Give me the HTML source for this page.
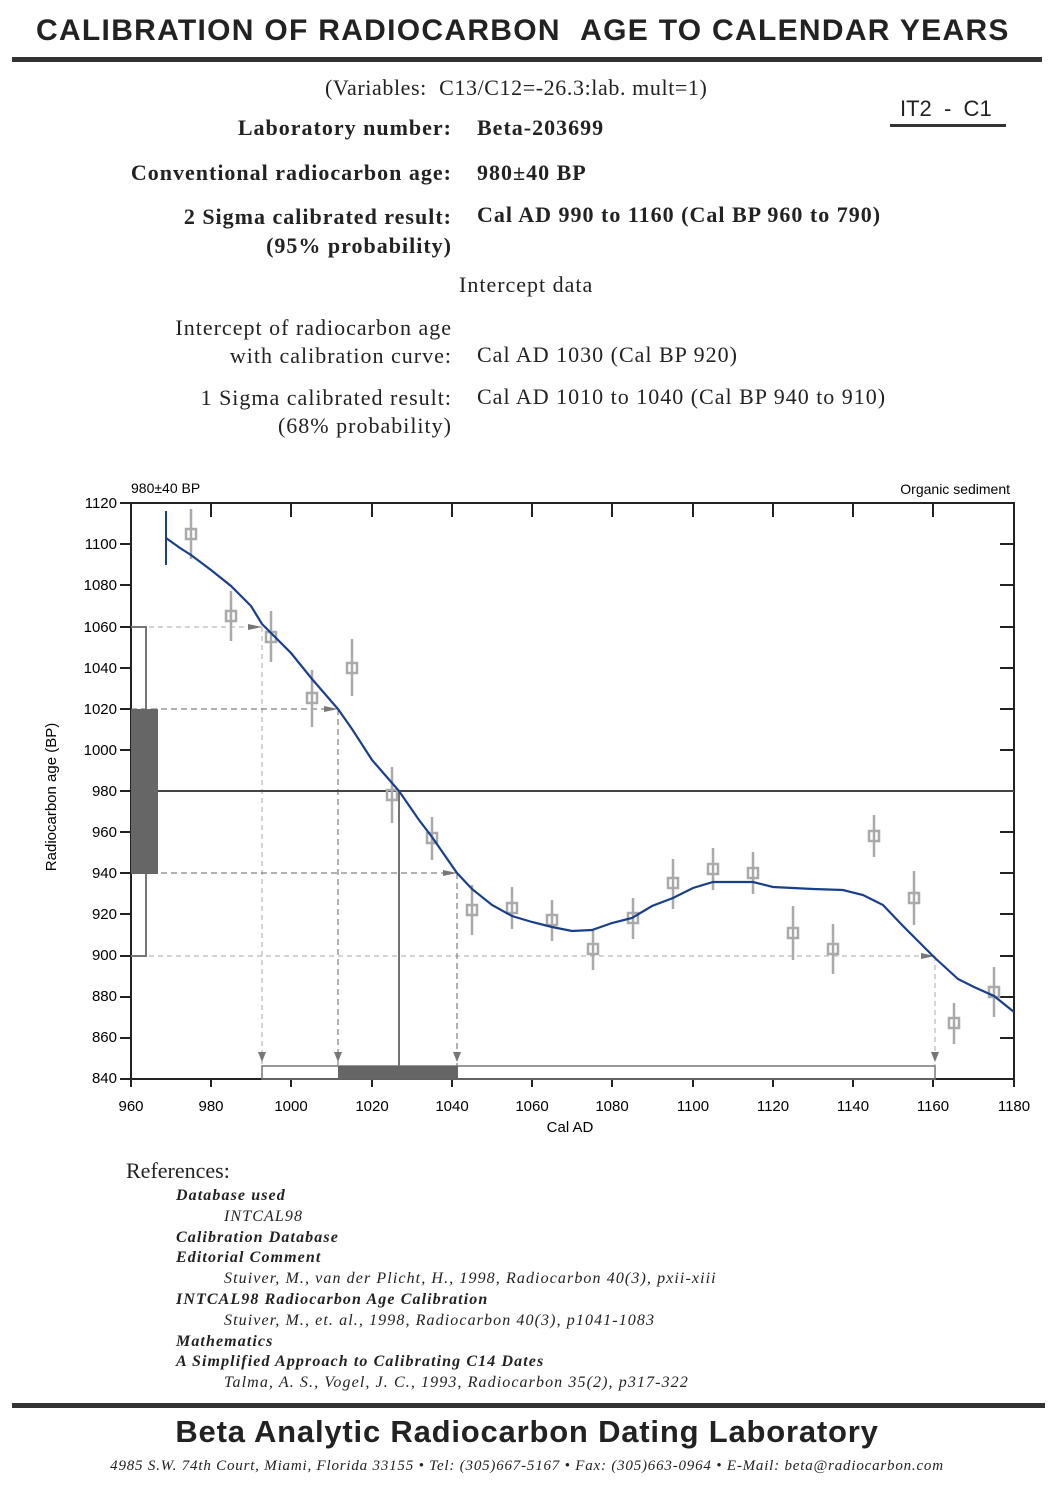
<!DOCTYPE html>
<html><head><meta charset="utf-8"><style>
body{margin:0;background:#fff;width:1054px;height:1504px;position:relative;overflow:hidden;font-family:"Liberation Serif",serif;color:#222}
.a{position:absolute;white-space:nowrap}
.s{font-family:"Liberation Sans",sans-serif}
.r{text-align:right}
.ref{font-style:italic;font-size:16px;letter-spacing:1.1px}
.t{letter-spacing:1px}
</style></head><body>
<div class="a s" style="left:36px;top:14px;font-size:30px;font-weight:bold;letter-spacing:1.3px">CALIBRATION OF RADIOCARBON &nbsp;AGE TO CALENDAR YEARS</div>
<div class="a" style="left:12px;top:57px;width:1030px;height:5px;background:#333"></div>
<div class="a" style="left:325px;top:75px;font-size:22px;letter-spacing:0.6px">(Variables: &nbsp;C13/C12=-26.3:lab. mult=1)</div>
<div class="a s" style="left:900px;top:96px;font-size:22px">IT2 &nbsp;- &nbsp;C1</div>
<div class="a" style="left:890px;top:124px;width:116px;height:3px;background:#333"></div>
<div class="a r t" style="right:602px;top:115px;font-size:22px;font-weight:bold">Laboratory number:</div>
<div class="a t" style="left:477px;top:115px;font-size:22px;font-weight:bold">Beta-203699</div>
<div class="a r t" style="right:602px;top:160px;font-size:22px;font-weight:bold">Conventional radiocarbon age:</div>
<div class="a t" style="left:477px;top:160px;font-size:22px;font-weight:bold">980±40 BP</div>
<div class="a r t" style="right:602px;top:202px;font-size:22px;font-weight:bold;line-height:29px">2 Sigma calibrated result:<br>(95% probability)</div>
<div class="a t" style="left:477px;top:202px;font-size:22px;font-weight:bold">Cal AD 990 to 1160 (Cal BP 960 to 790)</div>
<div class="a t" style="left:459px;top:272px;font-size:22px">Intercept data</div>
<div class="a r t" style="right:602px;top:314px;font-size:22px;line-height:28px">Intercept of radiocarbon age<br>with calibration curve:</div>
<div class="a t" style="left:477px;top:342px;font-size:22px">Cal AD 1030 (Cal BP 920)</div>
<div class="a r t" style="right:602px;top:384px;font-size:22px;line-height:28px">1 Sigma calibrated result:<br>(68% probability)</div>
<div class="a t" style="left:477px;top:384px;font-size:22px">Cal AD 1010 to 1040 (Cal BP 940 to 910)</div>

<svg class="a" style="left:0;top:0" width="1054" height="1504" font-family="Liberation Sans, sans-serif">
<text x="131" y="493" font-size="14">980±40 BP</text>
<text x="1010" y="494" font-size="14" text-anchor="end">Organic sediment</text>
<text x="56" y="797" font-size="15" text-anchor="middle" transform="rotate(-90 56 797)">Radiocarbon age (BP)</text>
<text x="570" y="1132" font-size="15" text-anchor="middle">Cal AD</text>
<g font-size="15" text-anchor="end">
<text x="117" y="508">1120</text><text x="117" y="549">1100</text><text x="117" y="590">1080</text><text x="117" y="632">1060</text><text x="117" y="673">1040</text><text x="117" y="714">1020</text><text x="117" y="755">1000</text><text x="117" y="796">980</text><text x="117" y="837">960</text><text x="117" y="878">940</text><text x="117" y="919">920</text><text x="117" y="960">900</text><text x="117" y="1001">880</text><text x="117" y="1042">860</text><text x="117" y="1083">840</text>
</g>
<g font-size="15" text-anchor="middle">
<text x="131" y="1111">960</text><text x="211" y="1111">980</text><text x="291" y="1111">1000</text><text x="372" y="1111">1020</text><text x="452" y="1111">1040</text><text x="532" y="1111">1060</text><text x="612" y="1111">1080</text><text x="693" y="1111">1100</text><text x="773" y="1111">1120</text><text x="853" y="1111">1140</text><text x="933" y="1111">1160</text><text x="1014" y="1111">1180</text>
</g>
<g stroke="#222" stroke-width="2">
<rect x="131" y="503" width="883" height="576" fill="none"/>
<path d="M120 503h11M120 544h11M120 585h11M120 627h11M120 668h11M120 709h11M120 750h11M120 791h11M120 832h11M120 873h11M120 914h11M120 956h11M120 997h11M120 1038h11M120 1079h11"/>
<path d="M1000 544h14M1000 585h14M1000 627h14M1000 668h14M1000 709h14M1000 750h14M1000 832h14M1000 873h14M1000 914h14M1000 956h14M1000 997h14M1000 1038h14"/>
<path d="M211 503v14M291 503v14M372 503v14M452 503v14M532 503v14M612 503v14M693 503v14M773 503v14M853 503v14M933 503v14"/>
<path d="M131 1079v8M211 1079v8M291 1079v8M372 1079v8M452 1079v8M532 1079v8M612 1079v8M693 1079v8M773 1079v8M853 1079v8M933 1079v8M1014 1079v8"/>
</g>
<g stroke="#aaa" stroke-width="1" stroke-dasharray="5,4" fill="none">
<path d="M131 627H262M131 956H935"/>
<path d="M262 627V1066M935 956V1066"/>
</g>
<g stroke="#666" stroke-width="1" stroke-dasharray="6,4" fill="none">
<path d="M131 709H338M131 873H457M338 709V1066M457 873V1066"/>
</g>
<path d="M131 791H1014" stroke="#444" stroke-width="2"/>
<path d="M399 791V1066" stroke="#444" stroke-width="1.5"/>
<path d="M131 627H146V956H131" stroke="#777" stroke-width="2" fill="none"/>
<rect x="131" y="709" width="27" height="165" fill="#666"/>
<rect x="262" y="1066" width="673" height="13" fill="none" stroke="#777" stroke-width="1.5"/>
<rect x="338" y="1066" width="120" height="13" fill="#666"/>
<g fill="#777">
<path d="M248 624l14 3-14 3z"/><path d="M324 706l14 3-14 3z"/><path d="M443 870l14 3-14 3z"/><path d="M921 953l14 3-14 3z"/>
<path d="M258 1052l4 10 4-10z"/><path d="M334 1052l4 10 4-10z"/><path d="M453 1052l4 10 4-10z"/><path d="M931 1052l4 10 4-10z"/>
</g>
<g stroke="#aaa" stroke-width="2.5" fill="none">
<path d="M191 509V559M231 591V641M271 611V662M312 670V727M352 639V696M392 767V823M432 817V860M472 885V935M512 887V929M552 900V941M593 929V970M633 898V939M673 859V909M713 848V890M753 852V894M793 906V960M833 924V974M874 815V857M914 871V925M954 1003V1044M994 967V1017"/>
<rect x="186" y="529" width="10" height="10"/><rect x="226" y="611" width="10" height="10"/><rect x="266" y="632" width="10" height="10"/><rect x="307" y="693" width="10" height="10"/><rect x="347" y="663" width="10" height="10"/><rect x="387" y="790" width="10" height="10"/><rect x="427" y="833" width="10" height="10"/><rect x="467" y="905" width="10" height="10"/><rect x="507" y="903" width="10" height="10"/><rect x="547" y="915" width="10" height="10"/><rect x="588" y="944" width="10" height="10"/><rect x="628" y="913" width="10" height="10"/><rect x="668" y="878" width="10" height="10"/><rect x="708" y="864" width="10" height="10"/><rect x="748" y="868" width="10" height="10"/><rect x="788" y="928" width="10" height="10"/><rect x="828" y="944" width="10" height="10"/><rect x="869" y="831" width="10" height="10"/><rect x="909" y="893" width="10" height="10"/><rect x="949" y="1018" width="10" height="10"/><rect x="989" y="987" width="10" height="10"/>
</g>
<path d="M166 511V565" stroke="#1a3f8a" stroke-width="2"/>
<polyline fill="none" stroke="#1a3f8a" stroke-width="2.2" points="166,538 180,548 191,555 211,570 231,586 251,606 262,624 271,633 291,653 312,679 338,709 352,729 372,760 399,791 419,820 432,837 457,873 472,889 492,905 512,916 532,922 552,927 572,931 592,930 612,923 632,918 652,906 673,898 693,888 713,882 733,882 753,882 773,887 793,888 813,889 843,890 863,895 883,905 903,926 935,958 958,979 974,987 994,996 1014,1012"/>
</svg>

<div class="a" style="left:126px;top:1158px;font-size:22px">References:</div>
<div class="a ref" style="left:176px;top:1186px;line-height:20.8px">
<b>Database used</b><br><span style="padding-left:48px">INTCAL98</span><br><b>Calibration Database</b><br><b>Editorial Comment</b><br><span style="padding-left:48px">Stuiver, M., van der Plicht, H., 1998, Radiocarbon 40(3), pxii-xiii</span><br><b>INTCAL98 Radiocarbon Age Calibration</b><br><span style="padding-left:48px">Stuiver, M., et. al., 1998, Radiocarbon 40(3), p1041-1083</span><br><b>Mathematics</b><br><b>A Simplified Approach to Calibrating C14 Dates</b><br><span style="padding-left:48px">Talma, A. S., Vogel, J. C., 1993, Radiocarbon 35(2), p317-322</span>
</div>
<div class="a" style="left:12px;top:1403px;width:1033px;height:5px;background:#333"></div>
<div class="a s" style="left:0;width:1054px;text-align:center;top:1414px;font-size:31px;font-weight:bold;letter-spacing:0.8px">Beta Analytic Radiocarbon Dating Laboratory</div>
<div class="a" style="left:0;width:1054px;text-align:center;top:1458px;font-size:15px;font-style:italic;letter-spacing:0.8px">4985 S.W. 74th Court, Miami, Florida 33155 • Tel: (305)667-5167 • Fax: (305)663-0964 • E-Mail: beta@radiocarbon.com</div>
</body></html>
